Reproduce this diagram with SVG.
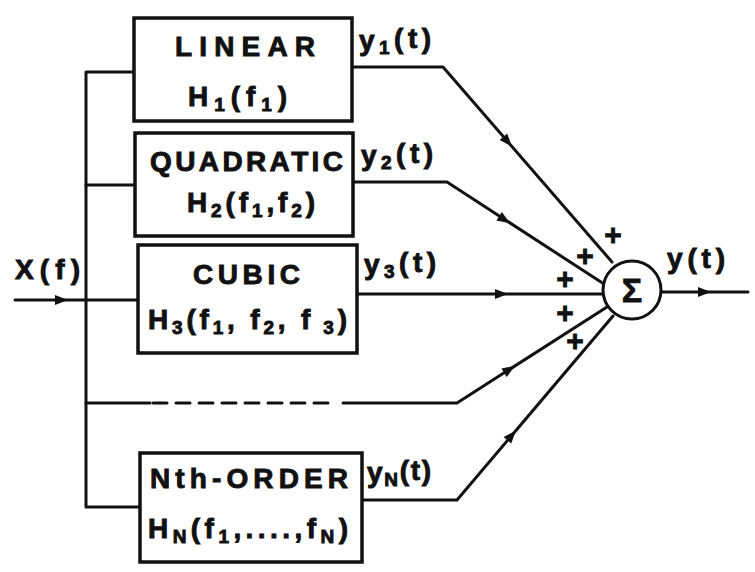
<svg xmlns="http://www.w3.org/2000/svg" width="755" height="572" viewBox="0 0 755 572">
<style>
.ln{fill:none;stroke:#111;stroke-width:3;stroke-linejoin:round;stroke-linecap:round}
.bx{fill:#fff;stroke:#111;stroke-width:3.5}
.t{font-family:"Liberation Sans",Arial,sans-serif;font-weight:bold;fill:#111;stroke:#111;stroke-width:0.9;font-size:28px}
.s{font-size:19px}
.pl{font-family:"Liberation Sans",Arial,sans-serif;font-weight:bold;fill:#111;stroke:#111;stroke-width:0.8;font-size:30px;text-anchor:middle}
</style>
<defs>
<path id="arr" d="M6,0 L-7,-5 L-7,5 Z" fill="#111"/>
</defs>
<rect width="755" height="572" fill="#fff"/>
<g id="connectors">
<path class="ln" d="M134,72 H86 V507 H140"/>
<path class="ln" d="M86,185 H135"/>
<path class="ln" d="M15,300 H138"/>
<path class="ln" d="M86,403 H150"/>
<path class="ln" d="M153,403 H332" stroke-dasharray="14 9" stroke-linecap="butt"/>
<path class="ln" d="M343,403 H457 L607,307"/>
<path class="ln" d="M352,67 H443 L612,262"/>
<path class="ln" d="M353,182 H447 L604,284"/>
<path class="ln" d="M357,294 H603"/>
<path class="ln" d="M362,500 H457 L613,316"/>
<path class="ln" d="M662,292 H748"/>
<use href="#arr" transform="translate(62,300)"/>
<use href="#arr" transform="translate(508,142) rotate(49.1)"/>
<use href="#arr" transform="translate(505,220) rotate(33)"/>
<use href="#arr" transform="translate(502,294)"/>
<use href="#arr" transform="translate(510,369) rotate(-32.6)"/>
<use href="#arr" transform="translate(512,435) rotate(-49.4)"/>
<use href="#arr" transform="translate(705,292)"/>
</g>
<g id="linear">
<rect class="bx" x="134" y="18" width="218" height="103"/>
<text class="t" x="175" y="56" textLength="140" lengthAdjust="spacing">LINEAR</text>
<text class="t" x="188" y="106" textLength="99" lengthAdjust="spacing">H<tspan class="s" dy="5">1</tspan><tspan dy="-5">(f</tspan><tspan class="s" dy="5">1</tspan><tspan dy="-5">)</tspan></text>
</g>
<g id="quadratic">
<rect class="bx" x="135" y="133" width="218" height="103"/>
<text class="t" x="150" y="171" textLength="193" lengthAdjust="spacing">QUADRATIC</text>
<text class="t" x="187" y="212" textLength="128" lengthAdjust="spacing">H<tspan class="s" dy="5">2</tspan><tspan dy="-5">(f</tspan><tspan class="s" dy="5">1</tspan><tspan dy="-5">,f</tspan><tspan class="s" dy="5">2</tspan><tspan dy="-5">)</tspan></text>
</g>
<g id="cubic">
<rect class="bx" x="138" y="245" width="219" height="108"/>
<text class="t" x="193" y="284" textLength="107" lengthAdjust="spacing">CUBIC</text>
<text class="t" x="148" y="329" textLength="199" lengthAdjust="spacing">H<tspan class="s" dy="5">3</tspan><tspan dy="-5">(f</tspan><tspan class="s" dy="5">1</tspan><tspan dy="-5">, f</tspan><tspan class="s" dy="5">2</tspan><tspan dy="-5">, f</tspan><tspan class="s" dy="5"> 3</tspan><tspan dy="-5">)</tspan></text>
</g>
<g id="nth">
<rect class="bx" x="140" y="453" width="222" height="109"/>
<text class="t" x="150" y="488" textLength="198" lengthAdjust="spacing">Nth-ORDER</text>
<text class="t" x="148" y="538" textLength="200" lengthAdjust="spacing">H<tspan class="s" dy="5">N</tspan><tspan dy="-5">(f</tspan><tspan class="s" dy="5">1</tspan><tspan dy="-5">,....,f</tspan><tspan class="s" dy="5">N</tspan><tspan dy="-5">)</tspan></text>
</g>
<g id="sum">
<circle cx="632" cy="290" r="29" fill="#fff" stroke="#111" stroke-width="3"/>
<text class="pl" x="632" y="302" style="font-size:34px">Σ</text>
</g>
<g id="labels">
<text class="t" x="15" y="279" textLength="65" lengthAdjust="spacing">X(f)</text>
<text class="t" x="359" y="50" textLength="72" lengthAdjust="spacing">y<tspan class="s" dy="4">1</tspan><tspan dy="-6">(t)</tspan></text>
<text class="t" x="361" y="165" textLength="72" lengthAdjust="spacing">y<tspan class="s" dy="4">2</tspan><tspan dy="-6">(t)</tspan></text>
<text class="t" x="364" y="274" textLength="72" lengthAdjust="spacing">y<tspan class="s" dy="4">3</tspan><tspan dy="-6">(t)</tspan></text>
<text class="t" x="367" y="482" textLength="64" lengthAdjust="spacing">y<tspan class="s" dy="4">N</tspan><tspan dy="-6">(t)</tspan></text>
<text class="t" x="667" y="268" textLength="58" lengthAdjust="spacing">y(t)</text>
<text class="pl" x="613" y="245">+</text>
<text class="pl" x="585" y="266">+</text>
<text class="pl" x="565" y="289">+</text>
<text class="pl" x="565" y="323">+</text>
<text class="pl" x="575" y="351">+</text>
</g>
</svg>
